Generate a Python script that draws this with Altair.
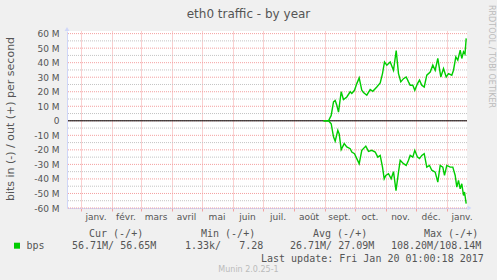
import altair as alt
import pandas as pd

# x values: days since 2016-01-01 ; y values: Mbit/s
out_days = [243, 248, 250.7, 253, 254.7, 256.3, 258, 260.7, 263, 266.3, 269.7, 271.3, 274, 276.3,
            278.7, 281.3, 283, 286.3, 289.7, 292.3, 296.3, 299.7, 302, 304, 306.3, 309.7, 313,
            315.7, 318, 320.3, 323, 325.7, 328, 329.7, 332.3, 334.3, 337, 339, 341.3, 343.7,
            346.3, 349.7, 352.3, 354.7, 357.3, 360.3, 363, 365.7, 368, 371.3, 373, 375.3,
            377.3, 379.7, 381.3, 383, 384.5, 385.7]
out_vals = [0, 0, 3.7, 13, 14, 10.7, 6, 20, 14.6, 16.4, 20, 18.8, 21, 25.6,
            29.5, 21, 19.5, 17.6, 21.5, 20.3, 23.3, 26, 32.5, 40.5, 38.3, 40.5, 34.8,
            48.3, 32.5, 26.8, 29, 30.2, 26.8, 24.5, 24.5, 21, 25.6, 28, 24.5, 23.3,
            31.4, 33.6, 38.3, 34.8, 42.9, 30.2, 36, 30.2, 32.5, 31.4, 34.8, 44,
            41.7, 48.6, 42.9, 47.5, 46, 56.7]

in_days = [243, 248, 250.7, 253, 254.7, 257.3, 258.7, 260.7, 263.7, 266.3, 269.7, 271.3, 274,
           276.3, 278.7, 281.3, 285.3, 288, 291.3, 294.7, 297.3, 299.7, 302, 303.7, 305.3, 308,
           310.7, 313, 315.5, 318, 319.7, 323, 325.7, 328, 329.7, 332.3, 334.3, 337, 339, 341.3,
           343.7, 346.3, 349, 351.3, 354.7, 357.3, 359.7, 362.3, 364, 366.3, 369.7, 372.3, 374.7,
           376.3, 378, 379.7, 381.3, 383, 384, 385.7]
in_vals = [0, 0, -2, -11, -14, -6.5, -9, -19.8, -15.7, -18, -19.2, -21.5, -22.6,
           -26, -29.5, -20.3, -17.4, -21, -20.3, -21.5, -25, -23.8, -31.9, -39.9, -37.6, -36.4,
           -39.9, -35, -48, -35.3, -27.2, -29.5, -30.7, -27.2, -23.8, -25, -20.3, -25, -26, -23.8,
           -22.6, -31.9, -30.7, -34, -35.3, -42.2, -30.7, -31.9, -37.6, -30.7, -31.9, -31.9, -37.6,
           -45.6, -41, -46.8, -43.3, -51.4, -49, -57]

month_starts = [0, 31, 60, 91, 121, 152, 182, 213, 244, 274, 305, 335, 366]
month_mid = [15.5, 45.5, 75.5, 106, 136.5, 167, 197.5, 228.5, 259, 289.5, 320, 350.5, 381.5]
month_names = ["janv.", "févr.", "mars", "avril", "mai", "juin", "juil.", "août",
               "sept.", "oct.", "nov.", "déc.", "janv."]
y_major = [-60, -50, -40, -30, -20, -10, 0, 10, 20, 30, 40, 50, 60]
y_minor = [-55, -45, -35, -25, -15, -5, 5, 15, 25, 35, 45, 55]

title_text = "eth0 traffic - by year"
ytitle_text = "bits in (-) / out (+) per second"
side_text = "RRDTOOL / TOBI OETIKER"
series_name = "bps"
legend_headers = ["Cur (-/+)", "Min (-/+)", "Avg (-/+)", "Max (-/+)"]
legend_values = ["56.71M/ 56.65M", "1.33k/   7.28", "26.71M/ 27.09M", "108.20M/108.14M"]
last_update = "Last update: Fri Jan 20 01:00:18 2017"
footer = "Munin 2.0.25-1"

# ---- layout ----
W, H = 400, 177
L, T = 67, 31
FONT = "DejaVu Sans"
MONO = "DejaVu Sans Mono"
TXT = "#555555"
GREEN = "#00CC00"
AXISC = "#CFD6F8"
MGRID = "#F4A0A0"

xsc = alt.Scale(domain=[-13.5, 386.5], nice=False, zero=False)
ysc = alt.Scale(domain=[-60, 61.8], nice=False, zero=False)

yaxis = alt.Axis(values=y_major, labelExpr="datum.value == 0 ? '0' : datum.value + ' M'",
                 title=None, grid=False, ticks=False, labelPadding=8, labelFont=FONT,
                 labelFontSize=9, labelColor=TXT, domainColor=AXISC, zindex=1)
xaxis = alt.Axis(values=month_starts, labels=False, title=None, grid=True,
                 gridColor=MGRID, gridDash=[1, 1], gridWidth=1, gridOpacity=1,
                 ticks=True, tickSize=3, tickColor=MGRID, domainColor=AXISC, zindex=0)


def X(f):
    return alt.X(f, scale=xsc, axis=xaxis)


def Y(f):
    return alt.Y(f, scale=ysc, axis=yaxis)


minor = alt.Chart(pd.DataFrame({"v": y_minor})).mark_rule(
    color="#C4C4C4", strokeDash=[1, 1]).encode(y=Y("v:Q"))
major = alt.Chart(pd.DataFrame({"v": y_major})).mark_rule(
    color=MGRID, strokeDash=[1, 1]).encode(y=Y("v:Q"))
zero = alt.Chart(pd.DataFrame({"v": [0]})).mark_rule(color="black", strokeWidth=1).encode(
    y=Y("v:Q"))

out_line = alt.Chart(pd.DataFrame({"d": out_days, "v": out_vals})).mark_line(
    color=GREEN, strokeWidth=1.4).encode(x=X("d:Q"), y=Y("v:Q"))
in_line = alt.Chart(pd.DataFrame({"d": in_days, "v": in_vals})).mark_line(
    color=GREEN, strokeWidth=1.4).encode(x=X("d:Q"), y=Y("v:Q"))

months = alt.Chart(pd.DataFrame({"d": month_mid, "m": month_names})).mark_text(
    font=FONT, fontSize=9, color=TXT, align="center", baseline="alphabetic").encode(
    x=X("d:Q"), y=alt.value(220 - T), text="m:N")


def txt(s, x, y, size, font=FONT, color=TXT, align="left", angle=0, baseline="alphabetic"):
    return alt.Chart(pd.DataFrame({"t": [s]})).mark_text(
        font=font, fontSize=size, color=color, align=align, baseline=baseline,
        angle=angle).encode(x=alt.value(x - L), y=alt.value(y - T), text="t:N")


def nb(s):
    return s.replace(" ", "\u00a0")


arrow_up = alt.Chart(pd.DataFrame({"a": [1]})).mark_point(
    shape="triangle-up", filled=True, size=22, color=AXISC, opacity=1).encode(
    x=alt.value(0), y=alt.value(-2))
arrow_right = alt.Chart(pd.DataFrame({"a": [1]})).mark_point(
    shape="triangle-right", filled=True, size=22, color=AXISC, opacity=1).encode(
    x=alt.value(W + 2.5), y=alt.value(H))
swatch = alt.Chart(pd.DataFrame({"a": [1]})).mark_square(
    size=36, color=GREEN, opacity=1).encode(x=alt.value(17 - L), y=alt.value(245.7 - T))

texts = [
    txt(title_text, 248.5, 18.3, 12, align="center"),
    txt(ytitle_text, 13.5, 119, 11, align="center", angle=270),
    txt(side_text, 488.5, 56.5, 8, color="#BBBBBB", align="center", angle=90),
    txt(series_name, 26.5, 249.3, 10, font=MONO),
    txt(footer, 248.5, 272.3, 8, color="#BBBBBB", align="center"),
    txt(nb(last_update), 261, 261.5, 10, font=MONO),
]
for s, x in zip(legend_headers, [89, 201, 313, 424]):
    texts.append(txt(nb(s), x, 236.5, 10, font=MONO))
for s, x in zip(legend_values, [72, 185, 290, 391]):
    texts.append(txt(nb(s), x, 249.3, 10, font=MONO))

chart = alt.layer(minor, major, zero, out_line, in_line, months,
                  arrow_up, arrow_right, swatch, *texts).properties(
    width=W, height=H,
    padding={"left": L, "top": T, "right": 497 - L - W, "bottom": 280 - T - H},
    autosize=alt.AutoSizeParams(type="none"),
    background="#F0F0F0",
).configure_view(fill="white", stroke="transparent", strokeWidth=0)

chart.save("out.html", embed_options={"renderer": "svg", "actions": False})
